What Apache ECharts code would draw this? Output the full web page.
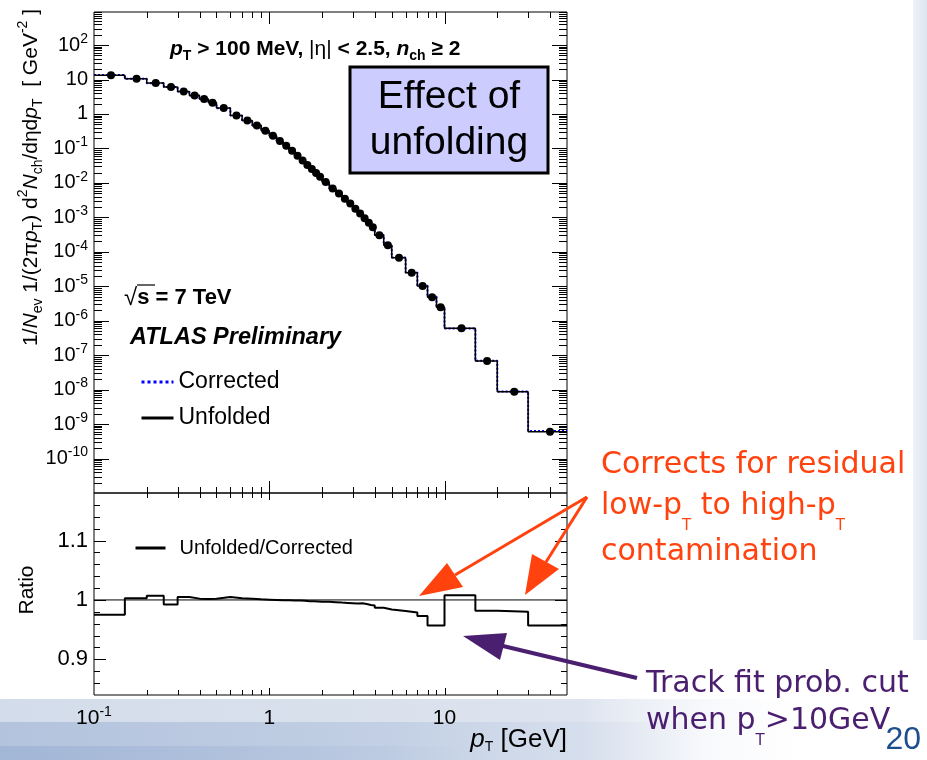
<!DOCTYPE html>
<html>
<head>
<meta charset="utf-8">
<title>Charged-particle pT spectrum: effect of unfolding</title>
<script src="https://cdn.jsdelivr.net/npm/echarts@6/dist/echarts.min.js"></script>
<style>
  html, body { margin: 0; padding: 0; background: #ffffff; }
  #chart { width: 927px; height: 760px; }
</style>
</head>
<body>
<div id="chart"></div>
<script>
// ---- data -------------------------------------------------------------
// pT bin edges [GeV]
const binEdges = [0.1, 0.15, 0.2, 0.25, 0.3, 0.35, 0.4, 0.45, 0.5, 0.6, 0.7, 0.8, 0.9,
  1.0, 1.1, 1.2, 1.3, 1.4, 1.5, 1.6, 1.7, 1.8, 1.9,
  2.0, 2.2, 2.4, 2.6, 2.8, 3.0, 3.2, 3.4, 3.6, 3.8,
  4.0, 4.5, 5, 6, 7, 8, 9, 10, 15, 20, 30, 50];

// 1/Nev 1/(2 pi pT) d2Nch/deta dpT [GeV^-2], unfolded spectrum (one value per bin)
const unfolded = [13.2, 10.5, 7.9, 6.05, 4.5, 3.45, 2.71, 2.12, 1.48, 0.90, 0.647, 0.463, 0.325,
  0.232, 0.163, 0.119, 0.0849, 0.0611, 0.0448, 0.0333, 0.0252, 0.0193, 0.0151,
  0.0106, 6.92e-3, 4.90e-3, 3.47e-3, 2.51e-3, 1.78e-3, 1.29e-3, 9.33e-4, 6.92e-4, 5.13e-4,
  3.02e-4, 1.55e-4, 6.76e-5, 2.45e-5, 1.02e-5, 4.79e-6, 2.45e-6,
  6.03e-7, 6.76e-8, 8.71e-9, 6.03e-10];

// bin-by-bin corrected spectrum
const corrected = [13.54, 10.47, 7.845, 6.096, 4.478, 3.442, 2.705, 2.116, 1.473, 0.8973, 0.6457, 0.4625, 0.3248,
  0.232, 0.1631, 0.1191, 0.08498, 0.06116, 0.04487, 0.03337, 0.02525, 0.01935, 0.01515,
  0.01063, 6.946e-3, 4.922e-3, 3.487e-3, 2.524e-3, 1.791e-3, 1.297e-3, 9.396e-4, 6.979e-4, 5.179e-4,
  3.060e-4, 1.575e-4, 6.887e-5, 2.503e-5, 1.048e-5, 5.005e-6, 2.560e-6,
  5.982e-7, 6.884e-8, 8.888e-9, 6.301e-10];

// Unfolded / Corrected
const ratio = [0.975, 1.003, 1.007, 0.9925, 1.005, 1.0022, 1.0017, 1.002, 1.005, 1.003, 1.002, 1.001, 1.0005,
  1.0, 0.9995, 0.9993, 0.999, 0.999, 0.9985, 0.998, 0.998, 0.9975, 0.997,
  0.9968, 0.9963, 0.9955, 0.995, 0.9945, 0.994, 0.9945, 0.993, 0.9915, 0.9905,
  0.987, 0.984, 0.9815, 0.979, 0.973, 0.957, 0.957,
  1.008, 0.982, 0.980, 0.957];

const ratioReference = [1.0];

// axis ranges and ticks
const xRange = [0.1, 50];
const yTopRange = [1e-11, 910];
const yRatioRange = [0.84, 1.18];
const xMajorTicks = [1, 10];
const yTopDecades = [-10, -9, -8, -7, -6, -5, -4, -3, -2, -1, 0, 1, 2];
const minorMultipliers = [2, 3, 4, 5, 6, 7, 8, 9];
const ratioMajorTicks = [0.9, 1.0, 1.1];
const ratioMinorTicks = [0.86, 0.88, 0.92, 0.94, 0.96, 0.98, 1.02, 1.04, 1.06, 1.08, 1.12, 1.14, 1.16];
const ratioTickLabels = [0.9, 1, 1.1];

// ---- styling constants -------------------------------------------------
const FONT = '"Liberation Sans", Arial, Helvetica, sans-serif';
const NOTE_FONT = '"DejaVu Sans", Verdana, sans-serif';
const ORANGE = '#ff420e';
const PURPLE = '#4b1f6f';

// ---- helpers -------------------------------------------------------------
function stepData(edges, vals) {
  const d = vals.map((v, i) => [edges[i], v]);
  d.push([edges[edges.length - 1], vals[vals.length - 1]]);
  return d;
}
function centers(edges) {
  const c = [];
  for (let i = 0; i < edges.length - 1; i++) c.push((edges[i] + edges[i + 1]) / 2);
  return c;
}
function minorTicks(range) {
  const out = [];
  const lo = Math.floor(Math.log10(range[0]));
  const hi = Math.ceil(Math.log10(range[1]));
  for (let d = lo; d <= hi; d++) {
    minorMultipliers.forEach(k => {
      const v = k * Math.pow(10, d);
      if (v > range[0] && v < range[1]) out.push(v);
    });
  }
  return out;
}
function decadeLabel(v, lowest) {
  const e = Math.round(v);
  if (Math.abs(v - e) > 1e-6) return '';
  if (lowest != null && e < lowest) return '';
  if (e === 0) return '1';
  if (e === 1) return '10';
  return '10{sup|' + e + '}';
}
const supRich = { sup: { fontSize: 14, fontFamily: FONT, color: '#000', verticalAlign: 'top' } };

// tick marks drawn inward on both sides of a frame
function tickData(xMajor, xMinor, yMajor, yMinor, refX, refY, len) {
  const d = [];
  xMajor.forEach(v => d.push([v, refY, len[0], 0]));
  xMinor.forEach(v => d.push([v, refY, len[1], 0]));
  yMajor.forEach(v => d.push([refX, v, len[2], 1]));
  yMinor.forEach(v => d.push([refX, v, len[3], 1]));
  return d;
}
function renderTick(params, api) {
  const cs = params.coordSys;
  const len = api.value(2);
  const kind = api.value(3);
  const p = api.coord([api.value(0), api.value(1)]);
  const style = { stroke: '#000', lineWidth: 1 };
  if (kind === 0) {
    const x = Math.round(p[0]) + 0.5;
    return { type: 'group', children: [
      { type: 'line', shape: { x1: x, y1: cs.y, x2: x, y2: cs.y + len }, style },
      { type: 'line', shape: { x1: x, y1: cs.y + cs.height, x2: x, y2: cs.y + cs.height - len }, style }
    ] };
  }
  const y = Math.round(p[1]) + 0.5;
  return { type: 'group', children: [
    { type: 'line', shape: { x1: cs.x, y1: y, x2: cs.x + len, y2: y }, style },
    { type: 'line', shape: { x1: cs.x + cs.width, y1: y, x2: cs.x + cs.width - len, y2: y }, style }
  ] };
}

const xMinorTicks = minorTicks(xRange);
const yTopMajor = yTopDecades.map(e => Math.pow(10, e));
const yTopMinor = minorTicks(yTopRange);
const hiddenAxis = { show: false };

// ---- option --------------------------------------------------------------
const option = {
  backgroundColor: '#ffffff',
  animation: false,
  textStyle: { fontFamily: FONT },
  grid: [
    { left: 94, top: 12, width: 473, height: 481, show: true, borderColor: '#000', borderWidth: 1 },
    { left: 94, top: 493, width: 473, height: 202, show: true, borderColor: '#000', borderWidth: 1 }
  ],
  xAxis: [
    Object.assign({ type: 'log', gridIndex: 0, min: xRange[0], max: xRange[1] }, hiddenAxis),
    Object.assign({ type: 'log', gridIndex: 1, min: xRange[0], max: xRange[1] }, hiddenAxis),
    {
      type: 'value', gridIndex: 1, position: 'bottom',
      min: Math.log10(xRange[0]), max: Math.log10(xRange[1]), interval: 1,
      axisLine: { show: false }, axisTick: { show: false }, splitLine: { show: false },
      axisLabel: {
        margin: 10, fontSize: 21, lineHeight: 26, color: '#000', fontFamily: FONT,
        showMinLabel: true, showMaxLabel: true,
        formatter: v => decadeLabel(v), rich: supRich
      }
    }
  ],
  yAxis: [
    Object.assign({ type: 'log', gridIndex: 0, min: yTopRange[0], max: yTopRange[1] }, hiddenAxis),
    {
      type: 'value', gridIndex: 0, position: 'left',
      min: Math.log10(yTopRange[0]), max: Math.log10(yTopRange[1]), interval: 1,
      axisLine: { show: false }, axisTick: { show: false }, splitLine: { show: false },
      axisLabel: {
        margin: 6, fontSize: 20, lineHeight: 26, color: '#000', fontFamily: FONT,
        formatter: v => decadeLabel(v, -10), rich: supRich
      }
    },
    {
      type: 'value', gridIndex: 1, position: 'left',
      min: yRatioRange[0], max: yRatioRange[1], interval: 0.02,
      axisLine: { show: false }, axisTick: { show: false }, splitLine: { show: false },
      axisLabel: {
        margin: 6, fontSize: 22, color: '#000', fontFamily: FONT,
        formatter: v => {
          for (const t of ratioTickLabels) if (Math.abs(v - t) < 1e-6) return String(t);
          return '';
        }
      }
    }
  ],
  legend: [
    {
      data: ['Corrected', 'Unfolded'], orient: 'vertical', left: 140, top: 370, padding: 0,
      itemWidth: 32, itemHeight: 14, itemGap: 12, selectedMode: false,
      lineStyle: { width: 3 }, itemStyle: { opacity: 0 },
      textStyle: { fontSize: 23, lineHeight: 24, color: '#000', fontFamily: FONT }
    },
    {
      data: ['Unfolded/Corrected'], orient: 'vertical', left: 134, top: 537, padding: 0,
      itemWidth: 30, itemHeight: 14, selectedMode: false,
      lineStyle: { width: 3 }, itemStyle: { opacity: 0 },
      textStyle: { fontSize: 20, lineHeight: 22, color: '#000', fontFamily: FONT, padding: [0, 0, 0, 9] }
    }
  ],
  series: [
    {
      name: 'Corrected', type: 'line', xAxisIndex: 0, yAxisIndex: 0, step: 'end',
      data: stepData(binEdges, corrected), symbol: 'none', z: 2,
      lineStyle: { color: '#0000ff', type: 'dotted', width: 2 }, itemStyle: { color: '#0000ff' }
    },
    {
      name: 'Unfolded', type: 'line', xAxisIndex: 0, yAxisIndex: 0, step: 'end',
      data: stepData(binEdges, unfolded), symbol: 'none', z: 3,
      lineStyle: { color: '#000', width: 1.5 }, itemStyle: { color: '#000' }
    },
    {
      name: 'Data', type: 'scatter', xAxisIndex: 0, yAxisIndex: 0, z: 4,
      data: centers(binEdges).map((c, i) => [c, unfolded[i]]),
      symbol: 'circle', symbolSize: 8, itemStyle: { color: '#000', opacity: 1 }
    },
    {
      name: 'Unfolded/Corrected', type: 'line', xAxisIndex: 1, yAxisIndex: 2, step: 'end',
      data: stepData(binEdges, ratio), symbol: 'none', z: 3,
      lineStyle: { color: '#000', width: 2 }, itemStyle: { color: '#000' }
    },
    {
      name: 'Unity', type: 'line', xAxisIndex: 1, yAxisIndex: 2, symbol: 'none', z: 2,
      data: [[xRange[0], ratioReference[0]], [xRange[1], ratioReference[0]]],
      lineStyle: { color: '#000', width: 1 }
    },
    {
      name: 'Frame ticks top', type: 'custom', xAxisIndex: 0, yAxisIndex: 0, silent: true, clip: false, z: 5,
      data: tickData(xMajorTicks, xMinorTicks, yTopMajor, yTopMinor, 1, 1, [12, 6, 15, 8]),
      renderItem: renderTick
    },
    {
      name: 'Frame ticks ratio', type: 'custom', xAxisIndex: 1, yAxisIndex: 2, silent: true, clip: false, z: 5,
      data: tickData(xMajorTicks, xMinorTicks, ratioMajorTicks, ratioMinorTicks, 1, 1, [7, 5, 12, 6]),
      renderItem: renderTick
    }
  ],
  graphic: [
    // slide backdrop
    { type: 'rect', z: -10, shape: { x: 0, y: 699, width: 830, height: 61 },
      style: { fill: { type: 'linear', x: 0, y: 0, x2: 1, y2: 0, colorStops: [
        { offset: 0, color: '#d3dcea' }, { offset: 0.7, color: '#dde4ef' }, { offset: 1, color: 'rgba(255,255,255,0)' }] } } },
    { type: 'rect', z: -9, shape: { x: 0, y: 722, width: 700, height: 38 },
      style: { fill: { type: 'linear', x: 0, y: 0, x2: 1, y2: 0, colorStops: [
        { offset: 0, color: '#b3c3dd' }, { offset: 0.55, color: '#c2cfe4' }, { offset: 1, color: 'rgba(205,216,234,0)' }] } } },
    { type: 'rect', z: -8, shape: { x: 0, y: 746, width: 480, height: 14 },
      style: { fill: { type: 'linear', x: 0, y: 0, x2: 1, y2: 0, colorStops: [
        { offset: 0, color: '#a2b6d6' }, { offset: 1, color: 'rgba(170,188,218,0)' }] } } },
    { type: 'rect', z: -10, shape: { x: 913, y: 0, width: 14, height: 640 },
      style: { fill: { type: 'linear', x: 0, y: 0, x2: 1, y2: 0, colorStops: [
        { offset: 0, color: '#eef2f8' }, { offset: 1, color: '#dde4f0' }] } } },

    // plot texts
    { type: 'text', z: 50, x: 170, y: 49, style: {
        text: '{bi|p}{bs|T} > 100 MeV, {n||η|} < 2.5, {bi|n}{bs|ch} ≥ 2',
        fontSize: 21, fontWeight: 'bold', fontFamily: FONT, fill: '#000', lineHeight: 29,
        align: 'left', verticalAlign: 'middle',
        rich: {
          bi: { fontSize: 21, fontWeight: 'bold', fontStyle: 'italic', fontFamily: FONT, fill: '#000' },
          bs: { fontSize: 14, fontWeight: 'bold', fontFamily: FONT, fill: '#000', verticalAlign: 'bottom' },
          n: { fontSize: 21, fontWeight: 'normal', fontFamily: FONT, fill: '#000' }
        } } },
    { type: 'text', z: 50, x: 124, y: 298, style: {
        text: '{r|√}s = 7 TeV', fontSize: 22, fontWeight: 'bold', fontFamily: FONT, fill: '#000',
        align: 'left', verticalAlign: 'middle',
        rich: { r: { fontSize: 24, fontWeight: 'normal', fontFamily: FONT, fill: '#000' } } } },
    { type: 'line', z: 50, shape: { x1: 137, y1: 285, x2: 155, y2: 285 }, style: { stroke: '#000', lineWidth: 1.2 } },
    { type: 'text', z: 50, x: 130, y: 338, style: {
        text: 'ATLAS Preliminary', fontSize: 23.5, fontWeight: 'bold', fontStyle: 'italic', fontFamily: FONT,
        fill: '#000', align: 'left', verticalAlign: 'middle' } },

    // axis titles
    { type: 'text', z: 50, x: 31, y: 9, rotation: Math.PI / 2, style: {
        text: '1/{i|N}{s|ev} 1/(2π{i|p}{s|T}) d{u|2}{i|N}{s|ch}/dηd{i|p}{s|T}  [ GeV{u|-2} ]',
        fontSize: 21, fontFamily: FONT, fill: '#000', lineHeight: 29, align: 'right', verticalAlign: 'middle',
        rich: {
          i: { fontSize: 21, fontStyle: 'italic', fontFamily: FONT, fill: '#000' },
          s: { fontSize: 14, fontFamily: FONT, fill: '#000', verticalAlign: 'bottom' },
          u: { fontSize: 14, fontFamily: FONT, fill: '#000', verticalAlign: 'top' }
        } } },
    { type: 'text', z: 50, x: 27, y: 590, rotation: Math.PI / 2, style: {
        text: 'Ratio', fontSize: 21, fontFamily: FONT, fill: '#000', align: 'center', verticalAlign: 'middle' } },
    { type: 'text', z: 50, x: 567, y: 740, style: {
        text: '{i|p}{s|T} [GeV]', fontSize: 26, fontFamily: FONT, fill: '#000', lineHeight: 28,
        align: 'right', verticalAlign: 'middle',
        rich: {
          i: { fontSize: 26, fontStyle: 'italic', fontFamily: FONT, fill: '#000' },
          s: { fontSize: 14, fontFamily: FONT, fill: '#000', verticalAlign: 'bottom' }
        } } },

    // "Effect of unfolding" box
    { type: 'rect', z: 40, shape: { x: 350, y: 67, width: 198, height: 106 },
      style: { fill: '#ccccff', stroke: '#000', lineWidth: 3 } },
    { type: 'text', z: 41, x: 449, y: 120, style: {
        text: 'Effect of\nunfolding', fontSize: 39, fontFamily: FONT, fill: '#000', lineHeight: 46,
        align: 'center', verticalAlign: 'middle' } },

    // annotations
    { type: 'text', z: 60, x: 601, y: 465, style: {
        text: 'Corrects for residual', fontSize: 30, fontFamily: NOTE_FONT, fill: ORANGE,
        align: 'left', verticalAlign: 'middle' } },
    { type: 'text', z: 60, x: 601, y: 506, style: {
        text: 'low-p{s|T} to high-p{s|T}', fontSize: 30, fontFamily: NOTE_FONT, fill: ORANGE, lineHeight: 56,
        align: 'left', verticalAlign: 'middle',
        rich: { s: { fontSize: 15, fontFamily: NOTE_FONT, fill: ORANGE, verticalAlign: 'bottom' } } } },
    { type: 'text', z: 60, x: 601, y: 552, style: {
        text: 'contamination', fontSize: 30, fontFamily: NOTE_FONT, fill: ORANGE,
        align: 'left', verticalAlign: 'middle' } },
    { type: 'line', z: 60, shape: { x1: 587, y1: 497, x2: 455, y2: 575 }, style: { stroke: ORANGE, lineWidth: 3 } },
    { type: 'polygon', z: 60, shape: { points: [[419, 596], [447, 563], [463, 587]] }, style: { fill: ORANGE } },
    { type: 'line', z: 60, shape: { x1: 587, y1: 497, x2: 546, y2: 562 }, style: { stroke: ORANGE, lineWidth: 3 } },
    { type: 'polygon', z: 60, shape: { points: [[525, 595], [532, 554], [559, 569]] }, style: { fill: ORANGE } },

    { type: 'text', z: 60, x: 646, y: 684, style: {
        text: 'Track fit prob. cut', fontSize: 30, fontFamily: NOTE_FONT, fill: PURPLE,
        align: 'left', verticalAlign: 'middle' } },
    { type: 'text', z: 60, x: 646, y: 721, style: {
        text: 'when p{s|T}>10GeV', fontSize: 30, fontFamily: NOTE_FONT, fill: PURPLE, lineHeight: 56,
        align: 'left', verticalAlign: 'middle',
        rich: { s: { fontSize: 15, fontFamily: NOTE_FONT, fill: PURPLE, verticalAlign: 'bottom' } } } },
    { type: 'line', z: 60, shape: { x1: 637, y1: 678, x2: 503, y2: 646 }, style: { stroke: PURPLE, lineWidth: 4 } },
    { type: 'polygon', z: 60, shape: { points: [[463, 636], [507, 633], [500, 660]] }, style: { fill: PURPLE } },

    // slide number
    { type: 'text', z: 60, x: 921, y: 740, style: {
        text: '20', fontSize: 32, fontFamily: FONT, fill: '#1c4f8c', align: 'right', verticalAlign: 'middle' } }
  ]
};

const chart = echarts.init(document.getElementById('chart'), null, { renderer: 'canvas' });
chart.setOption(option);
</script>
</body>
</html>
